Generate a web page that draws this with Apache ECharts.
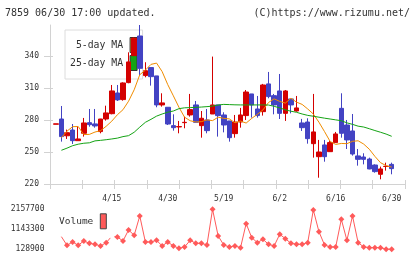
<!DOCTYPE html>
<html><head><meta charset="utf-8">
<script src="https://cdn.jsdelivr.net/npm/echarts@6/dist/echarts.min.js"></script>
<style>html,body{margin:0;padding:0;background:#fff}#c{width:420px;height:259px}</style>
</head><body><div id="c"></div>
<script>
const dates = ['4/1','4/2','4/3','4/4','4/7','4/8','4/9','4/10','4/11','4/14',
  '4/15','4/16','4/17','4/18','4/21','4/22','4/23','4/24','4/25','4/28',
  '4/30','5/1','5/7','5/8','5/9','5/12','5/13','5/14','5/15','5/16',
  '5/19','5/20','5/21','5/22','5/23','5/26','5/27','5/28','5/29','5/30',
  '6/2','6/3','6/4','6/5','6/6','6/9','6/10','6/11','6/12','6/13',
  '6/16','6/17','6/18','6/19','6/20','6/23','6/24','6/25','6/26','6/27','6/30'];
const tickLabels = ['4/15','4/30','5/19','6/2','6/16','6/30'];
const priceTicks = [220, 250, 280, 310, 340];
const volumeTicks = [128900, 1143300, 2157700];

const opens  = [276.0,280.9,265.2,270.6,260.6,267.5,277.5,276.3,269.1,280.9,
  285.9,305.3,299.1,315.0,340.3,358.7,321.6,329.1,321.3,294.1,
  291.9,274.7,273.5,277.5,284.7,294.1,274.7,280.0,285.6,294.1,
  284.7,279.1,267.2,278.1,284.1,304.4,290.3,287.8,313.8,302.8,
  307.2,286.2,299.7,288.4,277.2,278.1,257.8,245.6,256.6,250.3,
  258.8,290.9,275.3,269.7,246.3,245.3,243.4,237.8,229.1,236.4,238.4];
const closes = [276.4,264.4,268.1,260.6,262.2,277.2,275.6,274.4,280.9,286.6,
  307.2,298.8,314.7,334.4,356.6,328.4,326.2,320.6,294.1,296.0,
  276.2,272.8,273.8,277.8,289.7,277.8,281.6,270.0,294.1,284.1,
  275.3,263.4,278.1,284.7,306.2,294.1,284.1,312.8,301.9,294.1,
  286.2,307.2,294.1,291.3,272.8,262.5,268.8,250.0,245.6,258.8,
  266.9,267.5,261.3,248.1,243.1,243.1,234.1,231.6,234.1,236.6,234.4];
const lows   = [276.0,259.7,262.2,257.5,260.6,264.4,273.7,272.8,267.5,279.4,
  285.3,297.8,298.1,314.4,339.8,322.2,320.0,312.2,291.9,292.5,
  275.3,270.0,267.5,272.2,283.1,277.8,263.4,267.5,285.6,264.4,
  268.4,259.7,263.4,272.8,280.0,282.2,282.2,284.1,300.3,285.3,
  280.9,279.1,286.2,287.8,269.7,257.8,244.7,225.9,240.9,250.3,
  258.8,263.4,252.8,246.6,237.2,238.4,233.8,230.6,224.4,232.5,229.1];
const highs  = [276.4,293.1,271.0,276.2,273.7,281.9,290.3,290.3,281.0,293.4,
  312.8,312.8,315.3,343.4,357.5,369.0,334.1,329.1,321.3,305.0,
  291.9,285.3,279.1,283.1,304.4,297.8,288.4,290.3,339.4,294.1,
  287.2,279.1,284.7,291.3,308.1,304.4,302.5,313.8,325.0,304.4,
  323.1,308.1,299.7,302.5,281.0,281.6,304.4,261.3,261.3,260.3,
  268.8,305.0,280.0,285.6,252.8,248.8,244.7,238.4,236.3,240.0,240.0];

const ma5  = [null,263.4,269.5,273.7,273.9,266.3,266.5,268.7,270.0,274.1,
  278.9,284.9,289.6,297.6,308.3,322.4,326.7,332.1,333.3,325.3,
  313.1,302.6,291.9,282.6,279.3,278.1,278.4,280.1,279.4,282.6,
  281.5,281.0,277.4,279.0,277.1,281.5,285.3,289.4,296.4,299.8,
  297.4,295.8,300.4,296.7,294.6,290.3,285.6,277.9,269.1,259.9,
  257.1,258.0,257.8,260.0,260.5,257.4,252.6,245.9,240.0,237.2,235.9];
const ma25 = [null,251.6,253.6,255.9,257.3,258.2,258.6,260.4,260.9,261.5,
  262.2,263.0,264.4,265.3,268.5,273.3,277.8,280.6,283.6,285.6,
  287.3,288.4,290.6,291.4,291.6,291.8,292.1,292.5,293.0,294.0,
  294.6,294.4,294.2,294.1,294.1,294.1,294.1,294.1,294.0,292.8,
  291.3,289.5,288.2,287.2,285.6,284.3,283.5,282.6,281.7,280.9,
  280.1,279.3,277.3,275.9,274.2,273.4,271.8,270.1,268.5,266.8,264.7];
const volumes = [null,770000,331800,500900,331800,551600,433200,382500,298000,467000,
  788000,754500,551600,1109500,839000,1819600,500900,500900,585400,298000,
  500900,298000,179600,247200,585400,433200,433200,348700,2157700,805200,
  348700,247200,298000,213400,1430700,720600,467000,636100,382500,298000,
  889700,669900,433200,382500,382500,467000,2123900,1025000,348700,247200,
  247200,1650500,585400,1819600,467000,247200,213400,213400,213400,135000,128900];
const volumeNoMarker = [1];
const volumeHollow = [10];

const F = 'DejaVu Sans Mono';
const AX = '#d2d2d2';
const TXT = '#333';
const UP = '#d40000', DOWN = '#4343c3';
const ORANGE = '#f08c00', GREEN = '#14a314', VOL = '#ff5a5a';

const candleData = dates.map((d, i) => [opens[i], closes[i], lows[i], highs[i]]);
const volData = volumes.map((v, i) => {
  if (volumeNoMarker.includes(i)) return {value: v, symbol: 'none'};
  if (volumeHollow.includes(i)) return {value: v, itemStyle: {color: '#fff'}};
  return v;
});

const chart = echarts.init(document.getElementById('c'), null, {renderer: 'canvas'});
chart.setOption({
  animation: false,
  backgroundColor: '#fff',
  title: [
    {text: '7859 06/30 17:00 updated.', left: 5, top: 8, padding: 0,
     textStyle: {fontSize: 10, fontWeight: 'normal', color: TXT, fontFamily: F}},
    {text: '(C)https://www.rizumu.net/', right: 10, top: 8, padding: 0,
     textStyle: {fontSize: 10, fontWeight: 'normal', color: TXT, fontFamily: F}}
  ],
  legend: [
    {data: ['5-day MA', '25-day MA'], orient: 'vertical', left: 65, top: 30, align: 'right',
     icon: 'rect', itemWidth: 7, itemHeight: 15, itemGap: 2, padding: [7, 5, 8, 5],
     backgroundColor: '#fff', borderColor: '#dcdcdc', borderWidth: 1, selectedMode: false, z: 1,
     textStyle: {fontSize: 9.8, color: TXT, fontFamily: F, padding: [0, 2, 0, 0]},
     itemStyle: {borderColor: '#333', borderWidth: 1}},
    {data: ['Volume'], left: 59, top: 213.3, align: 'right', icon: 'rect',
     itemWidth: 6, itemHeight: 15, padding: 0, selectedMode: false,
     textStyle: {fontSize: 9.5, color: TXT, fontFamily: F, padding: [0, 2, 0, 0]},
     itemStyle: {borderColor: '#444', borderWidth: 1}}
  ],
  grid: [
    {left: 53, right: 25.5, top: 25, bottom: 75},
    {left: 50, right: 15, top: 25, bottom: 75},
    {left: 53, right: 25.5, top: 209.3, bottom: 9.7}
  ],
  xAxis: [
    {type: 'category', gridIndex: 0, data: dates, boundaryGap: true, position: 'bottom',
     axisLine: {show: false}, axisTick: {show: false}, splitLine: {show: false},
     axisLabel: {interval: (i, v) => tickLabels.includes(v), margin: 10.5, fontSize: 8, color: TXT, fontFamily: F}},
    {type: 'value', gridIndex: 1, min: 0, max: 11, interval: 1, position: 'bottom',
     axisLine: {show: true, lineStyle: {color: AX}}, axisTick: {show: true, length: 5, lineStyle: {color: AX}},
     axisLabel: {show: false}, splitLine: {show: false}},
    {type: 'value', gridIndex: 1, min: 0, max: 11, interval: 1, position: 'bottom',
     axisLine: {show: false}, axisTick: {show: true, inside: true, length: 4, lineStyle: {color: AX}},
     axisLabel: {show: false}, splitLine: {show: false}},
    {type: 'category', gridIndex: 2, data: dates, boundaryGap: true, show: false}
  ],
  yAxis: [
    {type: 'value', gridIndex: 0, min: 220, max: 369, show: false, splitLine: {show: false}},
    {type: 'value', gridIndex: 1, min: 220, max: 369, position: 'left',
     axisLine: {show: true, lineStyle: {color: AX}},
     axisTick: {show: true, length: 6, customValues: priceTicks, lineStyle: {color: AX}},
     axisLabel: {customValues: priceTicks, fontSize: 8, margin: 11, color: TXT, fontFamily: F},
     splitLine: {show: false}},
    {type: 'value', gridIndex: 1, min: 220, max: 369, position: 'left',
     axisLine: {show: false},
     axisTick: {show: true, inside: true, length: 3, customValues: priceTicks, lineStyle: {color: AX}},
     axisLabel: {show: false}, splitLine: {show: false}},
    {type: 'value', gridIndex: 2, min: 128900, max: 2157700, position: 'left',
     axisLine: {show: false}, axisTick: {show: false},
     axisLabel: {customValues: volumeTicks, formatter: v => String(v), fontSize: 8, margin: 8.5, color: TXT, fontFamily: F},
     splitLine: {show: false}}
  ],
  series: [
    {type: 'candlestick', name: 'price', xAxisIndex: 0, yAxisIndex: 0, data: candleData,
     barWidth: 5, z: 5,
     itemStyle: {color: UP, color0: DOWN, borderColor: UP, borderColor0: DOWN, borderWidth: 1}},
    {type: 'line', name: '5-day MA', xAxisIndex: 0, yAxisIndex: 0, data: ma5, symbol: 'none', z: 6,
     lineStyle: {color: ORANGE, width: 1}, itemStyle: {color: ORANGE}},
    {type: 'line', name: '25-day MA', xAxisIndex: 0, yAxisIndex: 0, data: ma25, symbol: 'none', z: 6,
     lineStyle: {color: GREEN, width: 1}, itemStyle: {color: GREEN}},
    {type: 'line', name: 'Volume', xAxisIndex: 3, yAxisIndex: 3, data: volData,
     symbol: 'diamond', symbolSize: 6, showAllSymbol: true,
     lineStyle: {color: VOL, width: 1}, itemStyle: {color: VOL}}
  ]
});
</script>
</body></html>
